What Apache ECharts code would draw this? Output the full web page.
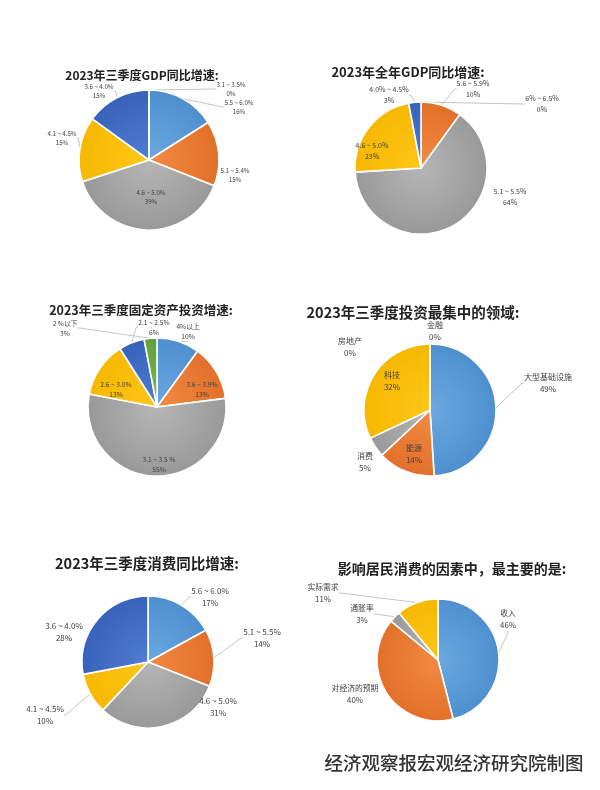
<!DOCTYPE html>
<html><head><meta charset="utf-8">
<script src="https://cdn.jsdelivr.net/npm/echarts@6/dist/echarts.min.js"></script>
<style>html,body{margin:0;padding:0;background:#fff}#c{width:600px;height:790px}</style>
</head><body><div id="c"></div>
<script>
// ---- data ----
const TITLES = ['2023年三季度GDP同比增速:', '2023年全年GDP同比增速:', '2023年三季度固定资产投资增速:',
  '2023年三季度投资最集中的领域:', '2023年三季度消费同比增速:', '影响居民消费的因素中，最主要的是:'];
const FOOTER = '经济观察报宏观经济研究院制图';

const P1_CATS = ['5.5 ~ 6.0%', '5.1 ~ 5.4%', '4.6 ~ 5.0%', '4.1 ~ 4.5%', '3.6 ~ 4.0%', '3.1 ~ 3.5%'];
const P1_VALS = [16, 15, 39, 15, 15, 0];
const P2_CATS = ['6% ~ 6.5%', '5.6 ~ 5.9%', '5.1 ~ 5.5%', '4.6 ~ 5.0%', '4.0% ~ 4.5%'];
const P2_VALS = [0, 10, 64, 23, 3];
const P3_CATS = ['4%以上', '3.6 ~ 3.9%', '3.1 ~ 3.5 %', '2.6 ~ 3.0%', '2.1 ~ 2.5%', '2 %以下'];
const P3_VALS = [10, 13, 55, 13, 6, 3];
const P4_CATS = ['大型基础设施', '能源', '消费', '科技', '房地产', '金融'];
const P4_VALS = [49, 14, 5, 32, 0, 0];
const P5_CATS = ['5.6 ~ 6.0%', '5.1 ~ 5.5%', '4.6 ~ 5.0%', '4.1 ~ 4.5%', '3.6 ~ 4.0%'];
const P5_VALS = [17, 14, 31, 10, 28];
const P6_CATS = ['收入', '对经济的预期', '通胀率', '实际需求'];
const P6_VALS = [46, 40, 3, 11];

// ---- styles / layout ----
// [centre colour, edge colour] per palette slot
const PALETTE = [['#6aa9e0', '#4e8fcf'], ['#f38a42', '#e2702a'], ['#b6b6b6', '#999999'],
  ['#ffc71a', '#f6b800'], ['#4f7ed2', '#3862bb'], ['#7cb955', '#62a03c']];
const FONT = "'Noto Sans CJK SC', 'Noto Sans', sans-serif";
const PIES = [
  { cats: P1_CATS, vals: P1_VALS }, { cats: P2_CATS, vals: P2_VALS }, { cats: P3_CATS, vals: P3_VALS },
  { cats: P4_CATS, vals: P4_VALS }, { cats: P5_CATS, vals: P5_VALS }, { cats: P6_CATS, vals: P6_VALS }
];
// label anchor [x, y, showLine]
const LAYOUT = [
  { center: [149, 160], r: 70, title: [142, 75, 12], font: 6.2, lh: 9.5,
    labels: [[239, 107, 1], [235, 175, 0], [151, 197, 0], [62, 138, 1], [99, 91, 1], [231, 89, 1]] },
  { center: [421, 168], r: 66, title: [408, 72, 13], font: 7, lh: 10.5,
    labels: [[542, 104, 1], [473, 89, 1], [510, 197, 0], [372, 151, 0], [389, 95, 1]] },
  { center: [157, 407], r: 69, title: [141, 310, 12.5], font: 6.7, lh: 10,
    labels: [[188, 331, 1], [202, 389, 0], [159, 464, 0], [116, 389, 0], [154, 327, 1], [65, 328, 1]] },
  { center: [430, 410], r: 66, title: [413, 312, 14.5], font: 8, lh: 11.5,
    labels: [[548, 383, 1], [414, 454, 0], [365, 462, 0], [392, 381, 0], [350, 347, 0], [435, 331, 0]] },
  { center: [148, 662], r: 66, title: [147, 563, 14.5], font: 8, lh: 12.5,
    labels: [[210, 597, 1], [262, 638, 1], [218, 707, 1], [45, 715, 1], [64, 632, 0]] },
  { center: [438, 660], r: 61, title: [452, 569, 14], font: 7.8, lh: 12,
    labels: [[508, 619, 1], [355, 694, 0], [362, 614, 1], [323, 593, 1]] }
];

function sliceFill(L, i) {
  const c = PALETTE[i % PALETTE.length];
  return {
    type: 'radial', x: L.center[0], y: L.center[1], r: L.r, global: true,
    colorStops: [{ offset: 0, color: c[0] }, { offset: 1, color: c[1] }]
  };
}

const chart = echarts.init(document.getElementById('c'), null, { renderer: 'canvas' });

const series = PIES.map((p, k) => {
  const L = LAYOUT[k];
  return {
    type: 'pie',
    center: L.center,
    radius: L.r,
    startAngle: 90,
    clockwise: true,
    avoidLabelOverlap: false,
    animation: false,
    itemStyle: { borderColor: '#ffffff', borderWidth: 1.6 },
    label: {
      show: true, position: 'outside', formatter: '{b}\n{c}%',
      fontSize: L.font, lineHeight: L.lh, color: '#404040', fontFamily: FONT, align: 'center'
    },
    labelLine: { show: true, length: 4, length2: 2, lineStyle: { color: '#b5b5b5', width: 0.8 } },
    labelLayout: function (params) {
      const a = L.labels[params.dataIndex];
      return { x: a[0], y: a[1], align: 'center', verticalAlign: 'middle' };
    },
    emphasis: { disabled: true },
    data: p.cats.map((n, i) => ({
      name: n, value: p.vals[i],
      itemStyle: { color: sliceFill(L, i) },
      labelLine: { show: !!L.labels[i][2] }
    }))
  };
});

const graphics = LAYOUT.map((L, k) => ({
  type: 'text', x: L.title[0], y: L.title[1], silent: true,
  style: {
    text: TITLES[k], fill: '#222222', fontSize: L.title[2], fontWeight: 'bold', fontFamily: FONT,
    align: 'center', verticalAlign: 'middle', textAlign: 'center', textVerticalAlign: 'middle'
  }
}));
graphics.push({
  type: 'text', x: 454, y: 763, silent: true,
  style: {
    text: FOOTER, fill: '#333333', fontSize: 18.5, fontWeight: 500, fontFamily: FONT,
    align: 'center', verticalAlign: 'middle', textAlign: 'center', textVerticalAlign: 'middle'
  }
});

chart.setOption({
  backgroundColor: '#ffffff',
  animation: false,
  series: series,
  graphic: graphics
});
</script>
</body></html>
